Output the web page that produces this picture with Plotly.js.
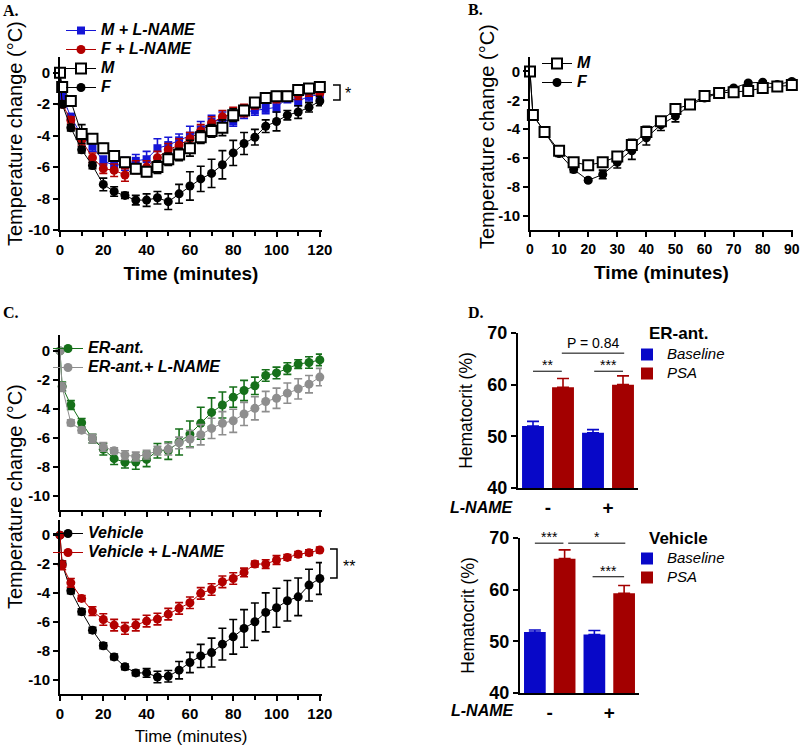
<!DOCTYPE html>
<html>
<head>
<meta charset="utf-8">
<script src="https://cdn.plot.ly/plotly-3.0.1.min.js"></script>
<style>html,body{margin:0;padding:0;background:#fff}</style>
</head>
<body>
<div id="chart" style="width:800px;height:746px"></div>
<script>
// ---- data ----
const timeLong = [0, 1, 5, 10, 15, 20, 25, 30, 35, 40, 45, 50, 55, 60, 65, 70, 75, 80, 85, 90, 95, 100, 105, 110, 115, 120];
const timeShort = [0, 1, 5, 10, 15, 20, 25, 30, 35, 40, 45, 50, 55, 60, 65, 70, 75, 80, 85, 90];

// panel A
const mLname = [0, -1.5, -2.8, -4.0, -4.7, -5.6, -5.9, -5.8, -5.6, -5.5, -4.8, -4.6, -4.3, -4.0, -3.6, -3.1, -3.0, -3.1, -2.5, -2.4, -2.3, -2.2, -1.6, -1.8, -1.5, -1.4];
const mLnameErr = [0, 0.2, 0.2, 0.3, 0.3, 0.3, 0.4, 0.4, 0.4, 0.5, 0.6, 0.5, 0.4, 0.6, 0.5, 0.4, 0.5, 0.3, 0.4, 0.3, 0.3, 0.3, 0.3, 0.3, 0.3, 0.2];
const fLname = [0, -2.0, -3.0, -4.3, -5.4, -6.1, -6.2, -6.5, -6.0, -6.0, -5.4, -4.9, -4.6, -4.2, -3.7, -3.2, -2.8, -2.6, -2.4, -2.0, -1.6, -1.6, -1.5, -1.4, -1.2, -1.3];
const fLnameErr = [0, 0.2, 0.2, 0.3, 0.3, 0.3, 0.4, 0.4, 0.4, 0.4, 0.4, 0.4, 0.4, 0.4, 0.4, 0.4, 0.4, 0.4, 0.4, 0.3, 0.3, 0.3, 0.3, 0.3, 0.3, 0.2];
const maleA = [0, -0.9, -1.8, -3.9, -4.2, -4.8, -5.3, -5.7, -6.1, -6.3, -6.0, -5.5, -5.2, -4.8, -4.1, -3.7, -3.5, -2.7, -2.4, -1.9, -1.6, -1.5, -1.5, -1.1, -1.0, -0.9];
const maleAErr = [0, 0.1, 0.2, 0.6, 0.3, 0.3, 0.3, 0.3, 0.3, 0.3, 0.4, 0.4, 0.4, 0.5, 0.4, 0.4, 0.5, 0.4, 0.3, 0.3, 0.3, 0.3, 0.3, 0.2, 0.2, 0.2];
const femaleA = [0, -2.0, -3.5, -4.9, -5.9, -7.1, -7.55, -7.8, -8.1, -8.1, -7.95, -8.2, -7.7, -7.2, -6.75, -6.4, -5.85, -5.1, -4.5, -4.1, -3.4, -3.1, -2.7, -2.5, -2.2, -1.8];
const femaleAErr = [0, 0.2, 0.2, 0.2, 0.2, 0.4, 0.3, 0.2, 0.3, 0.4, 0.4, 0.5, 0.6, 0.9, 0.8, 0.9, 0.9, 0.8, 0.7, 0.5, 0.4, 0.6, 0.3, 0.4, 0.3, 0.3];

// panel B
const maleB = [0, -3.03, -4.2, -5.5, -6.3, -6.5, -6.3, -5.9, -5.1, -4.2, -3.45, -2.6, -2.3, -1.7, -1.5, -1.45, -1.35, -1.15, -1.05, -0.95];
const maleBErr = [0, 0.1, 0.1, 0.2, 0.2, 0.2, 0.3, 0.3, 0.4, 0.4, 0.3, 0.3, 0.2, 0.2, 0.1, 0.1, 0.1, 0.1, 0.1, 0.1];
const femaleB = [0, -3.0, -4.2, -5.7, -6.8, -7.55, -7.15, -6.3, -5.5, -4.6, -3.7, -3.1, -2.35, -1.85, -1.5, -1.15, -0.8, -0.75, -0.9, -0.7];
const femaleBErr = [0, 0.1, 0.1, 0.2, 0.2, 0.1, 0.3, 0.4, 0.6, 0.5, 0.4, 0.4, 0.2, 0.2, 0.1, 0.1, 0.1, 0.1, 0.1, 0.1];

// panel C
const erAnt = [0, -2.45, -3.74, -4.97, -6.06, -6.8, -7.45, -7.7, -7.68, -7.5, -6.9, -6.9, -6.3, -5.75, -5.0, -4.25, -3.74, -3.2, -2.74, -2.41, -1.7, -1.52, -1.22, -0.91, -0.8, -0.62];
const erAntErr = [0, 0.3, 0.3, 0.3, 0.3, 0.4, 0.4, 0.4, 0.5, 0.5, 0.5, 0.6, 0.9, 0.9, 1.1, 1.0, 0.9, 0.7, 0.7, 0.6, 0.4, 0.4, 0.4, 0.3, 0.4, 0.4];
const erLname = [0, -2.5, -4.97, -5.48, -6.06, -6.64, -6.9, -7.2, -7.3, -7.17, -6.9, -6.8, -6.36, -6.1, -5.8, -5.36, -5.0, -4.83, -4.36, -3.97, -3.5, -3.27, -2.92, -2.62, -2.3, -1.81];
const erLnameErr = [0, 0.3, 0.2, 0.2, 0.3, 0.3, 0.2, 0.3, 0.3, 0.3, 0.3, 0.4, 0.4, 0.6, 0.7, 0.7, 0.8, 0.8, 0.8, 0.8, 0.7, 0.7, 0.7, 0.7, 0.6, 0.6];
const vehicle = [0, -2.0, -3.85, -5.3, -6.58, -7.66, -8.43, -9.12, -9.54, -9.54, -9.82, -9.77, -9.35, -8.82, -8.36, -8.13, -7.55, -7.04, -6.46, -6.0, -5.35, -5.03, -4.54, -4.27, -3.46, -3.0];
const vehicleErr = [0, 0.2, 0.2, 0.2, 0.2, 0.2, 0.2, 0.2, 0.2, 0.3, 0.4, 0.4, 0.6, 0.7, 0.8, 1.0, 1.1, 1.2, 1.3, 1.3, 1.35, 1.35, 1.4, 1.3, 1.1, 1.1];
const vehLname = [0, -2.1, -3.3, -4.38, -5.26, -5.84, -6.23, -6.46, -6.23, -5.95, -5.81, -5.47, -5.07, -4.68, -4.03, -3.76, -3.23, -3.0, -2.58, -2.0, -2.0, -1.72, -1.54, -1.33, -1.21, -1.03];
const vehLnameErr = [0, 0.3, 0.3, 0.2, 0.3, 0.4, 0.4, 0.4, 0.4, 0.4, 0.4, 0.4, 0.4, 0.4, 0.4, 0.4, 0.4, 0.4, 0.3, 0.2, 0.3, 0.3, 0.2, 0.2, 0.2, 0.2];

// panel D
const lnameCats = ['-', '+'];
const erBaseline = [52.0, 50.7];
const erBaselineErr = [0.9, 0.6];
const erPSA = [59.5, 60.0];
const erPSAErr = [1.7, 1.7];
const vehBaseline = [51.8, 51.3];
const vehBaselineErr = [0.4, 0.8];
const vehPSA = [66.0, 59.3];
const vehPSAErr = [1.7, 1.5];

const tempTicks = [0, -2, -4, -6, -8, -10];
const tempTickText = ['0', '-2', '-4', '-6', '-8', '-10'];
const hctTicks = [40, 50, 60, 70];

// ---- helpers ----
const W = 800, H = 746;
const px = v => v / W;
const py = v => 1 - v / H;
const FONT = 'Liberation Sans, Arial, sans-serif';
const SERIF = 'Liberation Serif, Times New Roman, serif';

const BLUE = '#1515d6', RED = '#b30000', GREEN = '#16701a', GREY = '#8e8e8e';
const BAR_BLUE = '#0808c8', BAR_RED = '#a30000';

// legend rows are spaced by the legend font size, so the visible text size is set inline
const big = (txt, size) => `<span style="font-size:${size}px">${txt}</span>`;

function series(x, y, err, name, color, xa, ya, leg, rank, marker) {
  return {
    type: 'scatter', mode: 'lines+markers', x: x, y: y, name: big(name, 16),
    xaxis: xa, yaxis: ya, legend: leg, legendrank: rank, cliponaxis: false,
    line: {color: color, width: 1},
    marker: marker || {symbol: 'circle', size: 9, color: color},
    error_y: {type: 'data', array: err, visible: true, color: color, thickness: 1.6, width: 4}
  };
}

function bars(y, err, name, color, xa, ya, leg) {
  return {
    type: 'bar', x: lnameCats, y: y, name: big(name, 15), xaxis: xa, yaxis: ya, legend: leg,
    marker: {color: color},
    error_y: {type: 'data', symmetric: false, array: err, arrayminus: [0, 0], color: color, thickness: 1.6, width: 6}
  };
}

const squareOpen = {symbol: 'square', size: 10, color: '#fff', line: {color: '#000', width: 2}};

const traces = [
  series(timeLong, mLname, mLnameErr, 'M + L-NAME', BLUE, 'x', 'y', 'legend', 1, {symbol: 'square', size: 8, color: BLUE}),
  series(timeLong, fLname, fLnameErr, 'F + L-NAME', RED, 'x', 'y', 'legend', 2),
  series(timeLong, femaleA, femaleAErr, 'F', '#000', 'x', 'y', 'legend', 4),
  series(timeLong, maleA, maleAErr, 'M', '#000', 'x', 'y', 'legend', 3, squareOpen),

  series(timeShort, femaleB, femaleBErr, 'F', '#000', 'x2', 'y2', 'legend2', 2),
  series(timeShort, maleB, maleBErr, 'M', '#000', 'x2', 'y2', 'legend2', 1, squareOpen),

  series(timeLong, erAnt, erAntErr, 'ER-ant.', GREEN, 'x3', 'y3', 'legend3', 1),
  series(timeLong, erLname, erLnameErr, 'ER-ant.+ L-NAME', GREY, 'x3', 'y3', 'legend3', 2),

  series(timeLong, vehicle, vehicleErr, 'Vehicle', '#000', 'x4', 'y4', 'legend4', 1),
  series(timeLong, vehLname, vehLnameErr, 'Vehicle + L-NAME', RED, 'x4', 'y4', 'legend4', 2),

  bars(erBaseline, erBaselineErr, 'Baseline', BAR_BLUE, 'x5', 'y5', 'legend5'),
  bars(erPSA, erPSAErr, 'PSA', BAR_RED, 'x5', 'y5', 'legend5'),
  bars(vehBaseline, vehBaselineErr, 'Baseline', BAR_BLUE, 'x6', 'y6', 'legend6'),
  bars(vehPSA, vehPSAErr, 'PSA', BAR_RED, 'x6', 'y6', 'legend6')
];

function axis(extra) {
  return Object.assign({
    showline: true, linecolor: '#000', linewidth: 2, ticks: 'outside', ticklen: 5,
    tickwidth: 2, tickcolor: '#000', showgrid: false, zeroline: false, fixedrange: true,
    tickfont: {family: FONT, size: 15, weight: 'bold', color: '#000'}
  }, extra);
}
const minor10 = {ticks: 'outside', dtick: 10, tick0: 0, ticklen: 4, tickwidth: 2, tickcolor: '#000'};
const timeTitle = {text: 'Time (minutes)', font: {family: FONT, size: 19, weight: 'bold', color: '#000'}, standoff: 10};
const hctTitle = {text: 'Hematocrit (%)', font: {family: FONT, size: 17.5, color: '#000'}, standoff: 10};
const hctTickFont = {family: FONT, size: 18, weight: 'bold', color: '#000'};

const legFont = {family: FONT, size: 12, weight: 'bold', style: 'italic', color: '#000'};
const barLegFont = {family: FONT, size: 12, style: 'italic', color: '#000'};
function legendBox(x, y, font) {
  return {x: px(x), y: py(y), xanchor: 'left', yanchor: 'top', bgcolor: 'rgba(0,0,0,0)',
    borderwidth: 0, tracegroupgap: 0, font: font || legFont};
}

// significance marks in panel D (bar index units / hematocrit %)
const sigTop = [
  {x0: -0.25, x1: 0.23, y: 62.6, text: '**'},
  {x0: 0.77, x1: 1.25, y: 62.6, text: '***'},
  {x0: 0.23, x1: 1.27, y: 66.1, text: 'P = 0.84'}
];
const sigBottom = [
  {x0: -0.25, x1: 0.23, y: 69.0, text: '***'},
  {x0: 0.31, x1: 1.27, y: 69.0, text: '*'},
  {x0: 0.72, x1: 1.25, y: 62.5, text: '***'}
];

const shapes = [];
const annotations = [];
[[sigTop, 'x5', 'y5'], [sigBottom, 'x6', 'y6']].forEach(([list, xr, yr]) => {
  list.forEach(s => {
    shapes.push({type: 'line', xref: xr, yref: yr, x0: s.x0, x1: s.x1, y0: s.y, y1: s.y, line: {color: '#000', width: 1}});
    annotations.push({xref: xr, yref: yr, x: (s.x0 + s.x1) / 2, y: s.y, text: s.text, showarrow: false,
      yanchor: 'bottom', yshift: s.text.startsWith('*') ? -4 : 0, font: {family: FONT, size: 14, color: '#000'}});
  });
});

// brackets beside the last points (A and C bottom)
function bracket(x0, x1, yTop, yBot, label, lx, ly) {
  shapes.push({type: 'path', xref: 'paper', yref: 'paper',
    path: `M${px(x0)},${py(yTop)} L${px(x1)},${py(yTop)} L${px(x1)},${py(yBot)} L${px(x0)},${py(yBot)}`,
    line: {color: '#000', width: 1.5}});
  annotations.push({xref: 'paper', yref: 'paper', x: px(lx), y: py(ly), text: label, showarrow: false,
    xanchor: 'left', yanchor: 'middle', font: {family: FONT, size: 16, color: '#000'}});
}
bracket(333, 340, 85, 100, '*', 343, 94);
bracket(330, 337, 549, 578, '**', 341, 566);

function label(text, x, y, font, extra) {
  annotations.push(Object.assign({xref: 'paper', yref: 'paper', x: px(x), y: py(y), text: text,
    showarrow: false, xanchor: 'left', yanchor: 'middle', font: font}, extra || {}));
}
const panelFont = {family: SERIF, size: 16, weight: 'bold', color: '#000'};
label('A.', 1, 10, panelFont);
label('B.', 466, 9, panelFont);
label('C.', 1, 313, panelFont);
label('D.', 466, 312, panelFont);
const tempTitleFont = {family: FONT, size: 20, color: '#000'};
label('Temperature change (°C)', 15, 134, tempTitleFont, {textangle: -90, xanchor: 'center'});
label('Temperature change (°C)', 487, 137, tempTitleFont, {textangle: -90, xanchor: 'center'});
label('Temperature change (°C)', 15, 497, tempTitleFont, {textangle: -90, xanchor: 'center'});
const lnameFont = {family: FONT, size: 16, weight: 'bold', style: 'italic', color: '#000'};
label('L-NAME', 482, 507, lnameFont, {xanchor: 'center'});
label('L-NAME', 483, 710, lnameFont, {xanchor: 'center'});
const groupFont = {family: FONT, size: 17, weight: 'bold', color: '#000'};
label('ER-ant.', 647, 333, groupFont);
label('Vehicle', 647, 538, groupFont);

const catAxis = {type: 'category', ticks: '', ticklabelstandoff: 1,
  tickfont: {family: FONT, size: 19, weight: 'bold', color: '#000'}};

const layout = {
  width: W, height: H,
  margin: {l: 0, r: 0, t: 0, b: 0},
  paper_bgcolor: '#fff', plot_bgcolor: 'rgba(0,0,0,0)',
  font: {family: FONT, color: '#000'},
  showlegend: true,
  barmode: 'group', bargap: 0, bargroupgap: 0.27,

  xaxis: axis({domain: [px(60), px(322)], range: [0, 121], anchor: 'y', dtick: 20, tick0: 0, minor: minor10, title: timeTitle}),
  yaxis: axis({domain: [py(230), py(57)], range: [-10, 1], anchor: 'x', tickvals: tempTicks, ticktext: tempTickText}),

  xaxis2: axis({domain: [px(530), px(793)], range: [0, 90.4], anchor: 'y2', dtick: 10, tick0: 0, title: timeTitle,
    tickfont: {family: FONT, size: 14, weight: 'bold', color: '#000'}}),
  yaxis2: axis({domain: [py(230), py(57)], range: [-11, 1], anchor: 'x2', tickvals: tempTicks, ticktext: tempTickText}),

  xaxis3: axis({domain: [px(60), px(322)], range: [0, 121], anchor: 'y3', dtick: 20, tick0: 0, minor: minor10, showticklabels: false}),
  yaxis3: axis({domain: [py(510), py(335)], range: [-11, 1.1], anchor: 'x3', tickvals: tempTicks, ticktext: tempTickText}),

  xaxis4: axis({domain: [px(60), px(322)], range: [0, 121], anchor: 'y4', dtick: 20, tick0: 0, minor: minor10,
    title: {text: 'Time (minutes)', font: {family: FONT, size: 17, color: '#000'}, standoff: 9}}),
  yaxis4: axis({domain: [py(694), py(520)], range: [-11, 1.05], anchor: 'x4', tickvals: tempTicks, ticktext: tempTickText}),

  xaxis5: axis(Object.assign({domain: [px(518), px(638)], anchor: 'y5'}, catAxis)),
  yaxis5: axis({domain: [py(488), py(333)], range: [40, 70], anchor: 'x5', tickvals: hctTicks, title: hctTitle, tickfont: hctTickFont}),

  xaxis6: axis(Object.assign({domain: [px(520), px(639)], anchor: 'y6'}, catAxis)),
  yaxis6: axis({domain: [py(693), py(538)], range: [40, 70], anchor: 'x6', tickvals: hctTicks, title: hctTitle, tickfont: hctTickFont}),

  legend: legendBox(61, 16),
  legend2: legendBox(537, 49),
  legend3: legendBox(48, 334),
  legend4: legendBox(48, 519),
  legend5: legendBox(627, 340, barLegFont),
  legend6: legendBox(627, 544, barLegFont),

  shapes: shapes,
  annotations: annotations
};

Plotly.newPlot('chart', traces, layout, {staticPlot: true, displayModeBar: false});
</script>
</body>
</html>
